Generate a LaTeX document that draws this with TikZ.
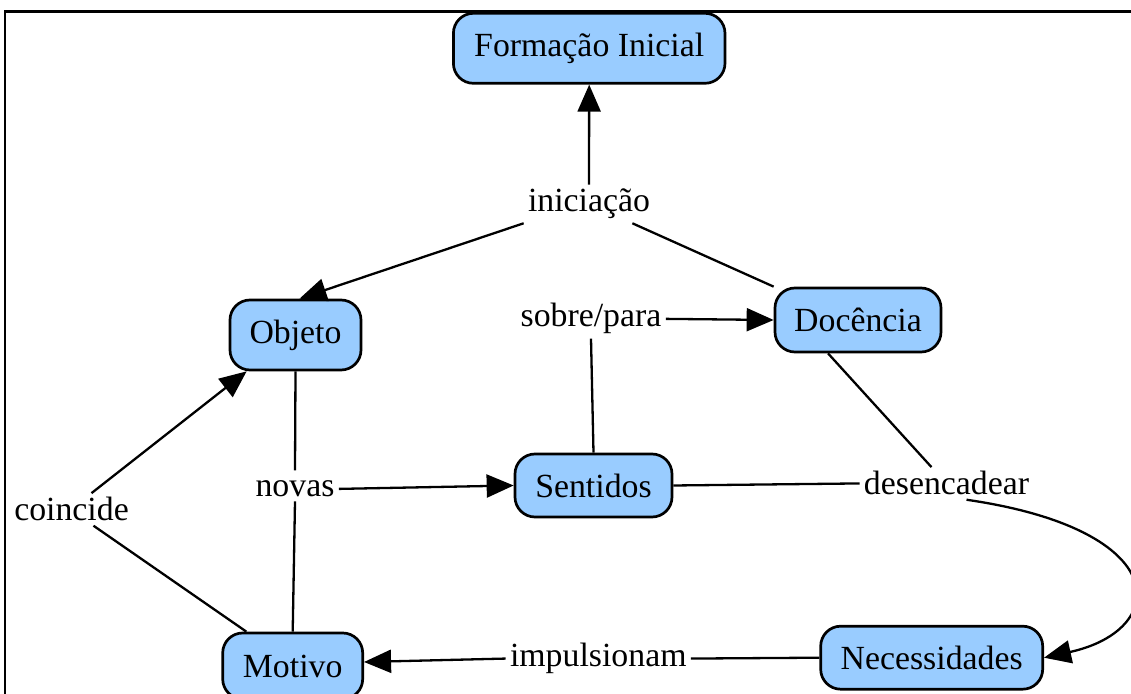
\documentclass[tikz,border=0pt]{standalone}
\usepackage{fontspec}
\setmainfont{Liberation Serif}
\usetikzlibrary{arrows.meta}
\definecolor{conceptfill}{RGB}{153,204,255}
\begin{document}
\begin{tikzpicture}[x=0.5pt,y=-0.5pt,
  concept/.style={draw=black,line width=1.35pt,fill=conceptfill,rounded corners=10pt,
    inner sep=0pt,font=\fontsize{16.9}{20}\selectfont},
  linkword/.style={anchor=base,inner sep=2pt,font=\fontsize{16.9}{20}\selectfont},
  conn/.style={draw=black,line width=1.15pt},
  arr/.style={conn,-{Triangle[length=13.5pt,width=11.5pt]}}]
\useasboundingbox (0,0) rectangle (1131,694);
% frame
\draw[line width=1.3pt] (5,694) -- (5,11.7) -- (1131,11.7);
% concepts
\node[concept,minimum width=135.8pt,minimum height=35pt] (fi)  at (589.2,48.3) {Formação Inicial};
\node[concept,minimum width=65.5pt,minimum height=35pt]  (obj) at (295.5,335)  {Objeto};
\node[concept,minimum width=83pt,minimum height=32pt]    (doc) at (858,320)    {Docência};
\node[concept,minimum width=78.5pt,minimum height=31.5pt](sen) at (593.5,485.5){Sentidos};
\node[concept,minimum width=70pt,minimum height=33pt]    (mot) at (292.7,666)  {Motivo};
\node[concept,minimum width=111pt,minimum height=31.5pt] (nec) at (931.7,657.7){Necessidades};
% linking words
\node[linkword] (ini) at (589,211.7)  {iniciação};
\node[linkword] (sob) at (591,327)    {sobre/para};
\node[linkword] (nov) at (295,496.7)  {novas};
\node[linkword] (coi) at (71.5,521)   {coincide};
\node[linkword] (des) at (946.5,495)  {desencadear};
\node[linkword] (imp) at (598.3,666.7){impulsionam};
% connections
\draw[arr]  (ini.north) -- (fi.south);
\draw[arr]  (ini.south west) -- ([xshift=2pt]obj.north);
\draw[conn] (doc.north west) -- ([xshift=-11pt]ini.south east);
\draw[conn] (sen.north) -- (sob.south);
\draw[arr]  (sob.east) -- (doc.west);
\draw[conn] (obj.south) -- ([yshift=3pt]nov.north);
\draw[arr]  (nov.east) -- (sen.west);
\draw[conn] (mot.north) -- (nov.south);
\draw[conn] ([xshift=12.5pt]mot.north west) -- ([xshift=11pt]coi.south);
\draw[arr]  ([xshift=10pt]coi.north) -- ([xshift=9pt]obj.south west);
\draw[conn] (sen.east) -- (des.west);
\draw[conn] ([xshift=-15pt]doc.south) -- ([xshift=-7.5pt]des.north);
\draw[arr]  ([xshift=10pt]des.south) .. controls (1175,530) and (1170,630) .. (nec.east);
\draw[conn] (nec.west) -- (imp.east);
\draw[arr]  (imp.west) -- ([yshift=2pt]mot.east);
\end{tikzpicture}
\end{document}
